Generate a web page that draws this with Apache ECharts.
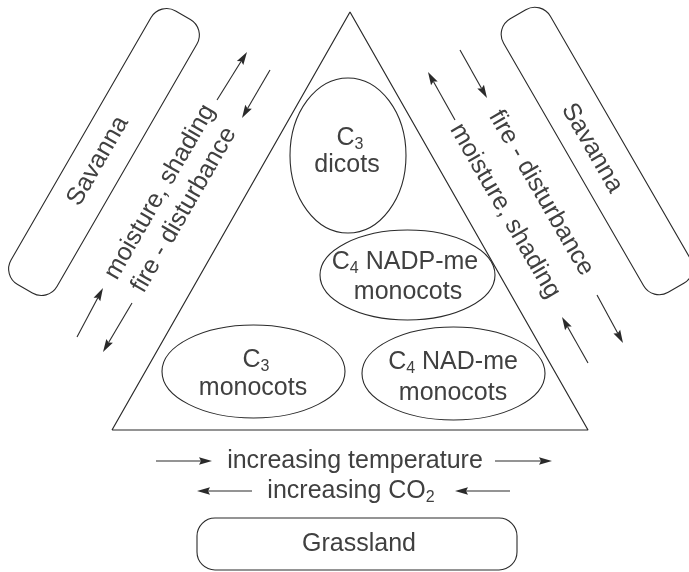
<!DOCTYPE html>
<html>
<head>
<meta charset="utf-8">
<script src="https://cdn.jsdelivr.net/npm/echarts@6/dist/echarts.min.js"></script>
<style>
  html, body { margin: 0; padding: 0; background: #fff; }
  #chart { width: 689px; height: 572px; }
</style>
</head>
<body>
<div id="chart"></div>
<script>
// triangle outline (closed)
const triangleX = [112, 350, 588, 112];
const triangleY = [430, 12, 430, 430];

// ellipses: centre x, centre y, radius x, radius y
const ellipses = [
  [348, 155.5, 58, 77.5],
  [407.5, 275, 87.5, 45],
  [253.5, 371.5, 91.5, 46.5],
  [453.5, 373.5, 91.5, 46.5]
];

// rounded boxes: centre x, centre y, length, width, angle (deg)
const boxes = [
  [104, 152, 316, 53, 60],
  [597, 151, 316, 54, -60],
  [357, 544, 320, 52, 0]
];

// arrows: from x, from y, to x, to y (head at the "to" end)
const arrows = [
  [217, 100, 247, 52], [270, 70, 242, 118],
  [77, 337, 103, 288], [132, 303, 103, 352],
  [455, 120, 428, 72], [460, 50, 487, 98],
  [588, 363, 562, 317], [597, 295, 623, 343],
  [156, 461, 212, 461], [495, 461, 552, 461],
  [252, 491, 197, 491], [510, 491, 455, 491]
];

// labels: x, y, angle (deg), text
const labels = [
  [350, 138, 0, '{n|C}{s|3}'],
  [347, 165, 0, '{n|dicots}'],
  [405, 262, 0, '{n|C}{s|4}{n| NADP-me}'],
  [408, 292, 0, '{n|monocots}'],
  [256, 360, 0, '{n|C}{s|3}'],
  [253, 388, 0, '{n|monocots}'],
  [453, 362, 0, '{n|C}{s|4}{n| NAD-me}'],
  [453, 393, 0, '{n|monocots}'],
  [98, 161, 60, '{n|Savanna}'],
  [592, 148, -60, '{n|Savanna}'],
  [160, 192, 60, '{n|moisture, shading}'],
  [184, 210, 60, '{n|fire - disturbance}'],
  [541, 193, -60, '{n|fire - disturbance}'],
  [505, 211, -60, '{n|moisture, shading}'],
  [355, 461, 0, '{n|increasing temperature}'],
  [351, 491, 0, '{n|increasing CO}{s|2}'],
  [359, 544, 0, '{n|Grassland}']
];

const INK = '#2a2a2a';
const TEXT = '#404040';
const FONT = '"Liberation Sans", Arial, sans-serif';

const chart = echarts.init(document.getElementById('chart'));

const option = {
  animation: false,
  grid: { left: 0, right: 0, top: 0, bottom: 0 },
  xAxis: { type: 'value', min: 0, max: 689, show: false },
  yAxis: { type: 'value', min: 0, max: 572, inverse: true, show: false },
  series: [
    {
      type: 'line',
      data: triangleX.map((x, i) => [x, triangleY[i]]),
      symbol: 'none',
      lineStyle: { color: INK, width: 1.2 },
      silent: true
    },
    {
      type: 'custom',
      clip: false,
      data: ellipses,
      renderItem(params, api) {
        const c = api.coord([api.value(0), api.value(1)]);
        const s = api.size([api.value(2), api.value(3)]);
        return {
          type: 'ellipse',
          shape: { cx: c[0], cy: c[1], rx: s[0], ry: s[1] },
          style: { fill: 'none', stroke: INK, lineWidth: 1.1 }
        };
      }
    },
    {
      type: 'custom',
      clip: false,
      data: boxes,
      renderItem(params, api) {
        const c = api.coord([api.value(0), api.value(1)]);
        const s = api.size([api.value(2), api.value(3)]);
        const w = s[0], h = s[1];
        return {
          type: 'rect',
          x: c[0],
          y: c[1],
          rotation: api.value(4) * Math.PI / 180,
          shape: { x: -w / 2, y: -h / 2, width: w, height: h, r: 18 },
          style: { fill: 'none', stroke: INK, lineWidth: 1.1 }
        };
      }
    },
    {
      type: 'custom',
      clip: false,
      data: arrows,
      renderItem(params, api) {
        const a = api.coord([api.value(0), api.value(1)]);
        const b = api.coord([api.value(2), api.value(3)]);
        const dx = b[0] - a[0], dy = b[1] - a[1];
        const len = Math.hypot(dx, dy);
        const ux = dx / len, uy = dy / len;
        const hl = 13, hw = 3.8;
        const bx = b[0] - ux * hl, by = b[1] - uy * hl;
        const nx = b[0] - ux * (hl - 2), ny = b[1] - uy * (hl - 2);
        return {
          type: 'group',
          children: [
            {
              type: 'line',
              shape: { x1: a[0], y1: a[1], x2: nx, y2: ny },
              style: { stroke: INK, lineWidth: 1.1 }
            },
            {
              type: 'polygon',
              shape: {
                points: [
                  [b[0], b[1]],
                  [bx - uy * hw, by + ux * hw],
                  [nx, ny],
                  [bx + uy * hw, by - ux * hw]
                ]
              },
              style: { fill: INK }
            }
          ]
        };
      }
    },
    {
      type: 'custom',
      clip: false,
      data: labels.map(l => [l[0], l[1]]),
      renderItem(params, api) {
        const l = labels[params.dataIndex];
        const c = api.coord([api.value(0), api.value(1)]);
        return {
          type: 'text',
          x: c[0],
          y: c[1],
          rotation: l[2] * Math.PI / 180,
          style: {
            text: l[3],
            align: 'center',
            verticalAlign: 'middle',
            fill: TEXT,
            rich: {
              n: { fontSize: 25, lineHeight: 29, fontFamily: FONT, fill: TEXT },
              s: { fontSize: 16, lineHeight: 19, verticalAlign: 'bottom', fontFamily: FONT, fill: TEXT }
            }
          }
        };
      }
    }
  ]
};

chart.setOption(option);
</script>
</body>
</html>
